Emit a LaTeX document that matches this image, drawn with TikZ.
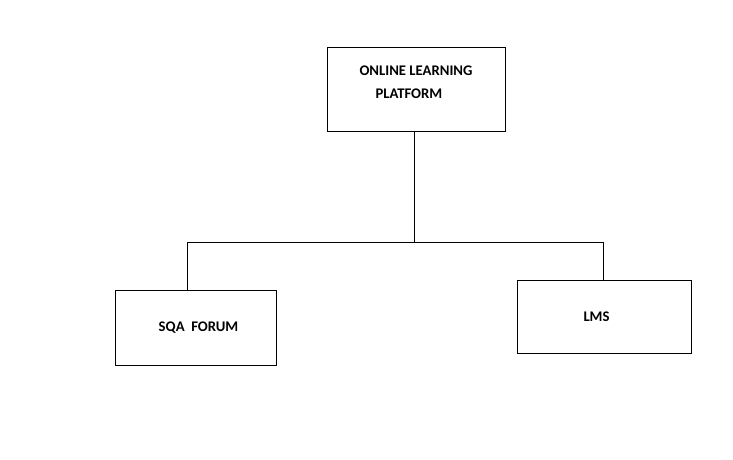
\documentclass[tikz,border=0pt]{standalone}
\usepackage{fontspec}
\setmainfont{Carlito}
\usetikzlibrary{positioning}

\begin{document}
\begin{tikzpicture}
  [x=1pt,y=-1pt,line width=1pt,
    every node/.style={font=\bfseries\fontsize{14.7}{23}\selectfont},
    box/.style={draw,rectangle,inner sep=0pt},
  ]
  \useasboundingbox (0,0) rectangle (733,460);
  \node[box,minimum width=178pt,minimum height=83pt,align=left] (olp) at (416,89.5)
    {ONLINE LEARNING\\\hspace*{16pt}PLATFORM\\[-9pt]\mbox{}};
  \node[box,minimum width=161pt,minimum height=75pt] (sqa) at (195.5,327.5) {\hspace*{6pt}SQA\ \ FORUM};
  \node[box,minimum width=174pt,minimum height=73pt] (lms) at (604,316.5) {LMS\hspace*{15pt}};
  % branches
  \coordinate (hub) at (414,242);
  \coordinate (jl) at (187,242);
  \coordinate (jr) at (603,242);
  \draw (olp.south -| hub) -- (hub);
  \draw (jl) -- (jr);
  \draw (jl) -- (jl |- sqa.north);
  \draw (jr) -- (jr |- lms.north);
\end{tikzpicture}
\end{document}
